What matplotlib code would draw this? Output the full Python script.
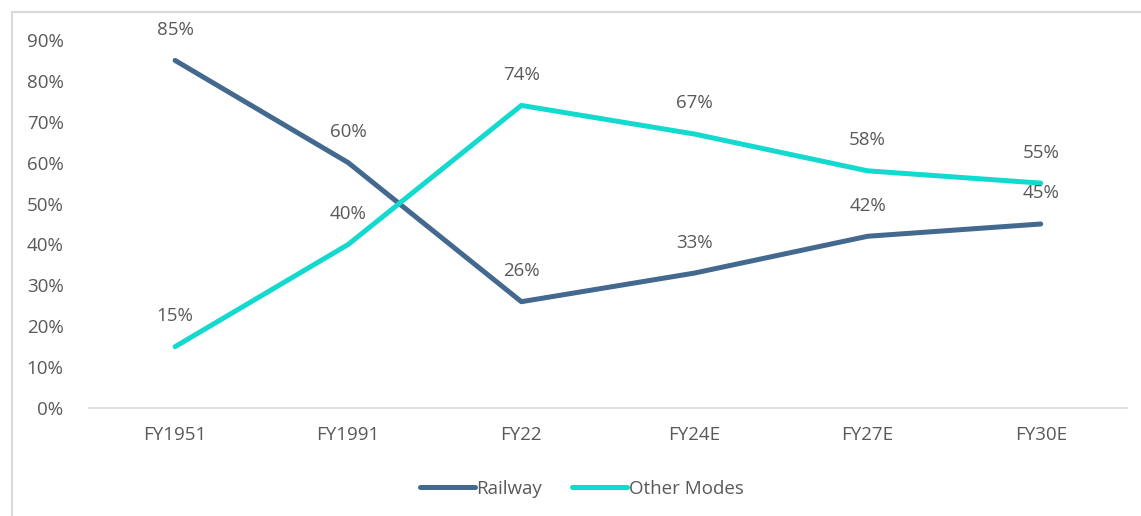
import matplotlib.pyplot as plt
from matplotlib.patches import Rectangle
from matplotlib.ticker import FuncFormatter

# Data
years = ['FY1951', 'FY1991', 'FY22', 'FY24E', 'FY27E', 'FY30E']
railway = [85, 60, 26, 33, 42, 45]
other_modes = [15, 40, 74, 67, 58, 55]

rail_color = '#44698F'
other_color = '#13D9CF'
text_color = '#595959'

plt.rcParams['font.family'] = ['Open Sans', 'DejaVu Sans']

fig = plt.figure(figsize=(11.41, 5.16), dpi=100)
ax = fig.add_axes([0.0776, 0.2093, 0.9104, 0.7132])

# light grey frame around the chart
fig.patches.append(Rectangle((12 / 1141, -0.05), 1.1, 1 - 12 / 516 + 0.05,
                             transform=fig.transFigure, fill=False,
                             edgecolor='#D9D9D9', linewidth=1.5))

x = range(len(years))
ax.plot(x, railway, color=rail_color, lw=3.6, solid_capstyle='round', label='Railway')
ax.plot(x, other_modes, color=other_color, lw=3.6, solid_capstyle='round', label='Other Modes')

for i in x:
    for vals in (railway, other_modes):
        ax.annotate(f'{vals[i]}%', (i, vals[i]), xytext=(0, 22), textcoords='offset points',
                    ha='center', va='center', fontsize=13.5, color=text_color)

ax.set_xlim(-0.5, len(years) - 0.5)
ax.set_ylim(0, 90)
ax.set_yticks(range(0, 91, 10))
ax.yaxis.set_major_formatter(FuncFormatter(lambda v, p: f'{int(v)}%'))
ax.set_xticks(list(x))
ax.set_xticklabels(years)
ax.tick_params(axis='both', length=0, labelsize=13.5, colors=text_color)
ax.tick_params(axis='y', pad=18)
ax.tick_params(axis='x', pad=13)

for s in ['top', 'right', 'left']:
    ax.spines[s].set_visible(False)
ax.spines['bottom'].set_color('#D9D9D9')
ax.spines['bottom'].set_linewidth(1.2)

leg = fig.legend(loc='center', bbox_to_anchor=(0.51, 1 - 489 / 516), ncol=2, frameon=False,
                 fontsize=13.5, handlelength=2.9, handletextpad=0.1, columnspacing=1.6)
for t in leg.get_texts():
    t.set_color(text_color)

fig.savefig('out.png', dpi=100)
